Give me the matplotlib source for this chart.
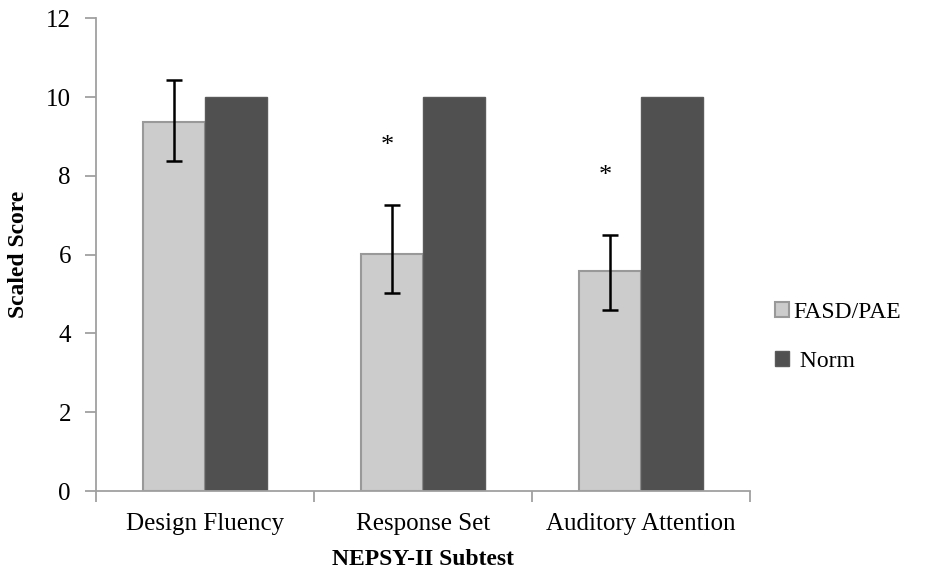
import matplotlib.pyplot as plt
import numpy as np

plt.rcParams['font.family'] = ['Liberation Serif', 'DejaVu Serif']

subtests = ["Design Fluency", "Response Set", "Auditory Attention"]
fasd = [9.37, 6.01, 5.58]
fasd_err_low = [0.99, 0.99, 0.99]
fasd_err_high = [1.06, 1.25, 0.91]
norm = [10, 10, 10]
signif = ["", "*", "*"]

fig = plt.figure(figsize=(9.42, 5.78), dpi=100)
ax = fig.add_axes([0.1019, 0.1505, 0.694, 0.818])

x = np.arange(len(subtests))
w = 0.285
ax.bar(x - w / 2, fasd, w, color="#cccccc", edgecolor="#999999", linewidth=1.5,
       label="FASD/PAE", zorder=2)
ax.bar(x + w / 2, norm, w, color="#505050", edgecolor="#5a5a5a", linewidth=1.0,
       label=" Norm", zorder=2)
ax.errorbar(x - w / 2, fasd, yerr=[fasd_err_low, fasd_err_high], fmt="none",
            ecolor="black", elinewidth=1.8, capsize=5.8, capthick=1.8, zorder=3)
for xi, v, e, s in zip(x, fasd, fasd_err_high, signif):
    if s:
        ax.text(xi - w / 2 - 0.02, v + e + 1.5, s, ha="center", va="center",
                fontsize=19)

ax.set_xlim(-0.5, 2.5)
ax.set_ylim(0, 12)
ax.set_yticks(range(0, 13, 2))
ax.set_xticks(x)
ax.set_xticklabels(subtests, fontsize=18)
ax.set_xticks([-0.5, 0.5, 1.5, 2.5], minor=True)
ax.tick_params(axis="x", which="major", length=0, pad=16)
ax.tick_params(axis="x", which="minor", length=8, color="#a0a0a0", width=1.3)
ax.tick_params(axis="y", length=8, color="#a0a0a0", width=1.3, labelsize=18, pad=10)

for side in ["top", "right"]:
    ax.spines[side].set_visible(False)
for side in ["left", "bottom"]:
    ax.spines[side].set_color("#a0a0a0")
    ax.spines[side].set_linewidth(1.3)

ax.set_xlabel("NEPSY-II Subtest", fontsize=17, fontweight="bold", labelpad=10)
ax.set_ylabel("Scaled Score", fontsize=17, fontweight="bold", labelpad=12)

fig.legend(loc="center left", bbox_to_anchor=(0.8, 0.417), frameon=False,
           fontsize=17, handlelength=0.6, handleheight=0.6, handletextpad=0.2,
           labelspacing=1.2)

fig.savefig("out.png", dpi=100)
